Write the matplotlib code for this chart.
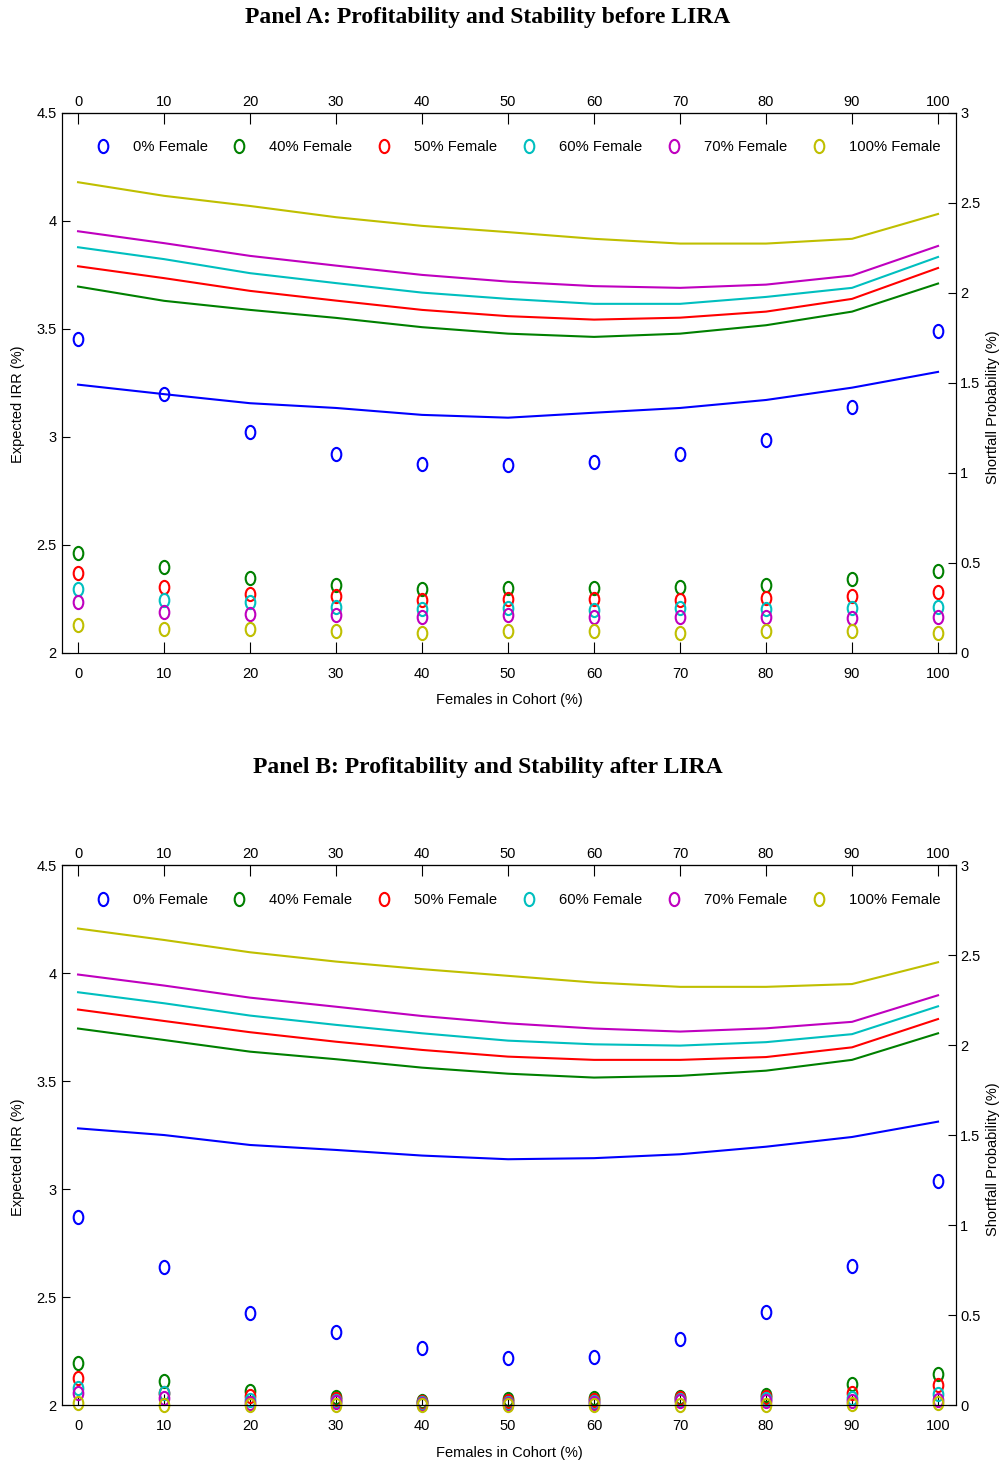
import matplotlib
matplotlib.use('Agg')
import matplotlib.pyplot as plt
from matplotlib.path import Path
from matplotlib.transforms import Affine2D

plt.rcParams['font.family'] = ['Liberation Sans', 'DejaVu Sans']

females = [0, 10, 20, 30, 40, 50, 60, 70, 80, 90, 100]
series_labels = ['0% Female', '40% Female', '50% Female', '60% Female', '70% Female', '100% Female']
series_colors = ['#0000ff', '#008000', '#ff0000', '#00bfbf', '#bf00bf', '#bfbf00']

# Panel A: before LIRA, expected IRR (%)
irr_before_0 = [3.242, 3.198, 3.156, 3.134, 3.102, 3.089, 3.112, 3.134, 3.171, 3.228, 3.301]
irr_before_40 = [3.696, 3.630, 3.588, 3.551, 3.508, 3.478, 3.463, 3.478, 3.517, 3.580, 3.710]
irr_before_50 = [3.790, 3.735, 3.676, 3.631, 3.588, 3.559, 3.543, 3.552, 3.580, 3.639, 3.782]
irr_before_60 = [3.878, 3.823, 3.758, 3.712, 3.668, 3.639, 3.616, 3.616, 3.648, 3.690, 3.833]
irr_before_70 = [3.952, 3.897, 3.838, 3.793, 3.750, 3.719, 3.698, 3.690, 3.705, 3.747, 3.884]
irr_before_100 = [4.179, 4.116, 4.069, 4.017, 3.977, 3.948, 3.917, 3.895, 3.895, 3.917, 4.032]

# Panel A: before LIRA, shortfall probability (%)
short_before_0 = [1.746, 1.437, 1.228, 1.106, 1.050, 1.044, 1.061, 1.106, 1.183, 1.367, 1.789]
short_before_40 = [0.554, 0.480, 0.419, 0.378, 0.357, 0.359, 0.359, 0.369, 0.378, 0.411, 0.456]
short_before_50 = [0.446, 0.369, 0.328, 0.317, 0.293, 0.300, 0.298, 0.294, 0.306, 0.317, 0.341]
short_before_60 = [0.356, 0.294, 0.283, 0.257, 0.246, 0.250, 0.239, 0.250, 0.243, 0.248, 0.257]
short_before_70 = [0.281, 0.226, 0.217, 0.209, 0.198, 0.209, 0.202, 0.202, 0.202, 0.193, 0.202]
short_before_100 = [0.157, 0.131, 0.131, 0.122, 0.113, 0.122, 0.124, 0.113, 0.122, 0.124, 0.113]

# Panel B: after LIRA, expected IRR (%)
irr_after_0 = [3.282, 3.251, 3.205, 3.182, 3.156, 3.139, 3.144, 3.162, 3.197, 3.242, 3.313]
irr_after_40 = [3.744, 3.691, 3.637, 3.602, 3.563, 3.535, 3.517, 3.525, 3.549, 3.599, 3.722]
irr_after_50 = [3.832, 3.779, 3.727, 3.683, 3.645, 3.614, 3.599, 3.599, 3.612, 3.657, 3.788]
irr_after_60 = [3.912, 3.861, 3.804, 3.761, 3.722, 3.688, 3.671, 3.665, 3.681, 3.718, 3.847]
irr_after_70 = [3.994, 3.943, 3.887, 3.845, 3.802, 3.768, 3.744, 3.730, 3.745, 3.775, 3.898]
irr_after_100 = [4.207, 4.154, 4.097, 4.054, 4.019, 3.988, 3.957, 3.937, 3.937, 3.950, 4.051]

# Panel B: after LIRA, shortfall probability (%)
short_after_0 = [1.048, 0.767, 0.511, 0.406, 0.317, 0.261, 0.267, 0.370, 0.520, 0.774, 1.248]
short_after_40 = [0.233, 0.135, 0.079, 0.048, 0.025, 0.035, 0.039, 0.048, 0.057, 0.117, 0.172]
short_after_50 = [0.153, 0.070, 0.052, 0.033, 0.018, 0.026, 0.030, 0.039, 0.044, 0.070, 0.113]
short_after_60 = [0.094, 0.068, 0.030, 0.026, 0.013, 0.015, 0.020, 0.030, 0.033, 0.039, 0.063]
short_after_70 = [0.070, 0.039, 0.011, 0.020, 0.008, 0.006, 0.011, 0.026, 0.026, 0.026, 0.031]
short_after_100 = [0.015, 0.000, 0.000, 0.000, 0.003, 0.000, 0.000, 0.000, 0.002, 0.007, 0.015]

irr_ticks = [2, 2.5, 3, 3.5, 4, 4.5]
short_ticks = [0, 0.5, 1, 1.5, 2, 2.5, 3]

# tall open circle like the original marker
oval = Path.unit_circle().transformed(Affine2D().scale(0.73, 1.0))


def draw_panel(ax, irrs, shorts):
    ax2 = ax.twinx()
    for vals, col in zip(irrs, series_colors):
        ax.plot(females, vals, color=col, lw=1.5)
    for vals, col, lab in zip(shorts, series_colors, series_labels):
        ax2.plot(females, vals, ls='none', marker=oval, ms=9.5, mfc='none',
                 mec=col, mew=1.5, label=lab, clip_on=False)

    ax.set_xlim(-1.86, 102.09)
    ax.set_ylim(2, 4.5)
    ax2.set_ylim(0, 3)
    ax.set_xticks(females)
    ax.set_yticks(irr_ticks)
    ax.set_yticklabels(['2', '2.5', '3', '3.5', '4', '4.5'])
    ax2.set_yticks(short_ticks)
    ax2.set_yticklabels(['0', '0.5', '1', '1.5', '2', '2.5', '3'])

    ax.tick_params(axis='x', direction='in', length=8, width=0.8, top=True,
                   labelsize=10.5, pad=10)
    ax.tick_params(axis='y', direction='in', length=6, width=0.8, labelsize=10.5, pad=4)
    ax2.tick_params(axis='y', direction='in', length=6, width=0.8, labelsize=10.5, pad=3)

    # numbers above the box
    top = ax.secondary_xaxis('top')
    top.set_xticks(females)
    top.tick_params(direction='in', length=0, labelsize=10.5, pad=3)

    ax.set_xlabel('Females in Cohort (%)', fontsize=10.5, labelpad=9)
    ax.set_ylabel('Expected IRR (%)', fontsize=10.5)
    ax2.set_ylabel('Shortfall Probability (%)', fontsize=10.5)
    ax.yaxis.set_label_coords(-0.0415, 0.46)
    ax2.yaxis.set_label_coords(1.0335, 0.455)

    ax2.legend(loc='upper left', bbox_to_anchor=(0.029, 0.949), ncol=6,
               frameon=False, fontsize=10.6, numpoints=1, handlelength=2.0,
               handletextpad=1.04, columnspacing=1.15, borderpad=0,
               borderaxespad=0)


fig = plt.figure(figsize=(10.04, 14.64), dpi=100)
ax_a = fig.add_axes([0.0618, 0.5540, 0.8904, 0.3689])
ax_b = fig.add_axes([0.0618, 0.0401, 0.8904, 0.3689])

draw_panel(ax_a,
           [irr_before_0, irr_before_40, irr_before_50, irr_before_60, irr_before_70, irr_before_100],
           [short_before_0, short_before_40, short_before_50, short_before_60, short_before_70, short_before_100])
draw_panel(ax_b,
           [irr_after_0, irr_after_40, irr_after_50, irr_after_60, irr_after_70, irr_after_100],
           [short_after_0, short_after_40, short_after_50, short_after_60, short_after_70, short_after_100])

fig.text(0.486, 1 - 17 / 1464, 'Panel A: Profitability and Stability before LIRA',
         ha='center', va='center', fontsize=17, fontweight='bold', family='Liberation Serif')
fig.text(0.486, 1 - 768 / 1464, 'Panel B: Profitability and Stability after LIRA',
         ha='center', va='center', fontsize=17, fontweight='bold', family='Liberation Serif')

fig.savefig('out.png', dpi=100)
